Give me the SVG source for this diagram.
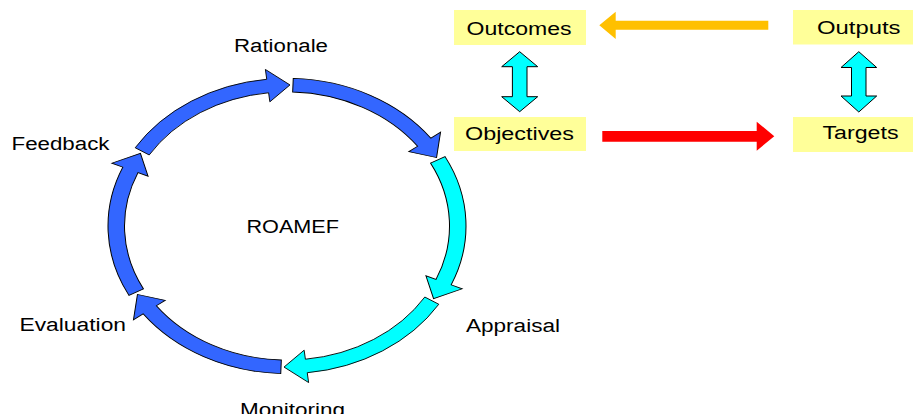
<svg xmlns="http://www.w3.org/2000/svg" xmlns:xlink="http://www.w3.org/1999/xlink" width="915" height="414" viewBox="0 0 915 414">
<style>
.lbl{font-family:"Liberation Sans","Noto Sans CJK JP",Arial,sans-serif;font-size:18px;fill:#000}
.box{fill:#FFFF99;stroke:none}
.ring{stroke:#000;stroke-width:1;vector-effect:non-scaling-stroke;stroke-linejoin:miter}
.blue{fill:#3366FF}
.cyan{fill:#00FFFF}
.dbl{fill:#00FFFF;stroke:#000;stroke-width:1}
</style>
<defs>
<path id="seg" d="M-151.80,-94.86 A179,179 0 0 1 -20.26,-177.85 L-21.62,-189.77 L2.98,-170.97 L-17.15,-150.53 L-18.40,-161.46 A162.5,162.5 0 0 0 -137.81,-86.11 Z"/>
</defs>
<rect width="915" height="414" fill="#fff"/>
<g id="connectors">
<g transform="translate(287,226) scale(1,0.825)">
<use xlink:href="#seg" class="ring blue" transform="rotate(0)"/>
<use xlink:href="#seg" class="ring blue" transform="rotate(60)"/>
<use xlink:href="#seg" class="ring cyan" transform="rotate(120)"/>
<use xlink:href="#seg" class="ring cyan" transform="rotate(180)"/>
<use xlink:href="#seg" class="ring blue" transform="rotate(240)"/>
<use xlink:href="#seg" class="ring blue" transform="rotate(300)"/>
</g>
<polygon fill="#FFC000" points="768.3,20.7 615.7,20.7 615.7,11.7 599.3,25.3 615.7,39 615.7,29.7 768.3,29.7"/>
<polygon fill="#FF0000" points="602.3,131 756.7,131 756.7,121.7 774.3,136.2 756.7,150.7 756.7,141.7 602.3,141.7"/>
<polygon class="dbl" points="519.7,51.7 537.7,66.7 527,66.7 527,96.7 537.7,96.7 519.7,111.7 501.7,96.7 512.4,96.7 512.4,66.7 501.7,66.7"/>
<polygon class="dbl" points="858.8,51.7 876.7,67.5 866,67.5 866,96 876.7,96 858.8,112 841,96 851.5,96 851.5,67.5 841,67.5"/>
</g>
<g id="node-roamef"><text class="lbl" x="246.5" y="232.5" textLength="92.5" lengthAdjust="spacingAndGlyphs">ROAMEF</text></g>
<g id="node-rationale"><text class="lbl" x="234" y="51.5" textLength="94" lengthAdjust="spacingAndGlyphs">Rationale</text></g>
<g id="node-feedback"><text class="lbl" x="11.5" y="149.5" textLength="98" lengthAdjust="spacingAndGlyphs">Feedback</text></g>
<g id="node-appraisal"><text class="lbl" x="466" y="331.5" textLength="94" lengthAdjust="spacingAndGlyphs">Appraisal</text></g>
<g id="node-evaluation"><text class="lbl" x="19.5" y="330.5" textLength="106.5" lengthAdjust="spacingAndGlyphs">Evaluation</text></g>
<g id="node-monitoring"><text class="lbl" x="240" y="416" textLength="105" lengthAdjust="spacingAndGlyphs">Monitoring</text></g>
<g id="node-outcomes"><rect class="box" x="454" y="10" width="132" height="35"/><text class="lbl" x="466.5" y="34.5" textLength="105" lengthAdjust="spacingAndGlyphs">Outcomes</text></g>
<g id="node-objectives"><rect class="box" x="454" y="117" width="132" height="34"/><text class="lbl" x="465" y="139.5" textLength="109" lengthAdjust="spacingAndGlyphs">Objectives</text></g>
<g id="node-outputs"><rect class="box" x="793" y="10" width="120" height="34.5"/><text class="lbl" x="817" y="34" textLength="83.5" lengthAdjust="spacingAndGlyphs">Outputs</text></g>
<g id="node-targets"><rect class="box" x="793" y="117" width="120" height="35"/><text class="lbl" x="822.5" y="139" textLength="76" lengthAdjust="spacingAndGlyphs">Targets</text></g>
</svg>
